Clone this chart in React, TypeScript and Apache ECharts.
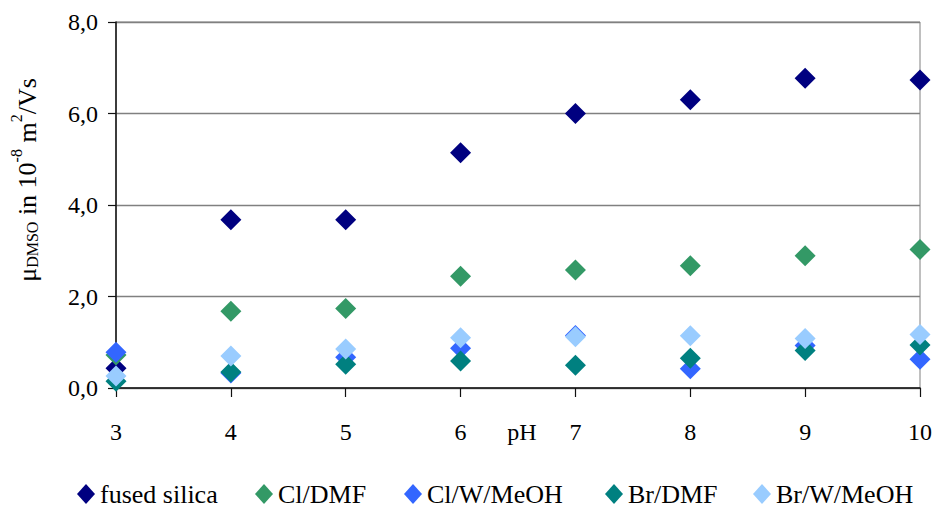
import React, { useEffect, useRef } from "react";
import * as echarts from "echarts";

const pH = [3, 4, 5, 6, 7, 8, 9, 10];
const fusedSilica = [0.43, 3.68, 3.68, 5.14, 6.0, 6.3, 6.77, 6.73];
const clDMF = [0.72, 1.68, 1.74, 2.44, 2.58, 2.67, 2.89, 3.03];
const clWMeOH = [0.78, 0.33, 0.67, 0.87, 1.15, 0.42, 0.93, 0.63];
const brDMF = [0.15, 0.35, 0.52, 0.59, 0.5, 0.65, 0.82, 0.94];
const brWMeOH = [0.26, 0.7, 0.85, 1.1, 1.12, 1.14, 1.08, 1.17];

const seriesNames = ["fused silica", "Cl/DMF", "Cl/W/MeOH", "Br/DMF", "Br/W/MeOH"];
const seriesValues = [fusedSilica, clDMF, clWMeOH, brDMF, brWMeOH];
const seriesColors = ["#000080", "#339966", "#3366FF", "#008080", "#99CCFF"];
const legendLefts = [72, 250, 399, 600, 748];

const FONT = "'Liberation Serif', 'Times New Roman', Times, serif";

export default function App() {
  const ref = useRef<HTMLDivElement>(null);
  useEffect(() => {
    if (!ref.current) return;
    const chart = echarts.init(ref.current, undefined, { renderer: "svg" });
    const labelRich = { t: { fontFamily: FONT, fontSize: 24, color: "#000" } };
    const option: any = {
      animation: false,
      backgroundColor: "#ffffff",
      textStyle: { fontFamily: FONT, color: "#000" },
      grid: {
        left: 116,
        right: 15,
        top: 22,
        bottom: 122,
        show: true,
        borderColor: "#808080",
        borderWidth: 1,
        backgroundColor: "transparent",
      },
      legend: seriesNames.map((n, i) => ({
        data: [n],
        left: legendLefts[i],
        top: 476,
        icon: "diamond",
        itemWidth: 18,
        itemHeight: 20,
        textStyle: { fontFamily: FONT, fontSize: 26, color: "#000" },
        selectedMode: false,
      })),
      xAxis: {
        type: "value",
        min: 3,
        max: 10,
        interval: 1,
        name: "pH",
        nameLocation: "middle",
        nameGap: 32,
        nameMoveOverlap: false,
        nameTextStyle: { fontFamily: FONT, fontSize: 24, color: "#000", padding: [0, 0, 0, 8] },
        axisLine: { lineStyle: { color: "#111", width: 1.5 } },
        axisTick: { show: true, length: 9, lineStyle: { color: "#111", width: 1.2 } },
        axisLabel: {
          fontFamily: FONT,
          fontSize: 24,
          color: "#000",
          margin: 32,
          formatter: (v: number) => "{t|" + String(v) + "}",
          rich: labelRich,
        },
        splitLine: { show: false },
      },
      yAxis: {
        type: "value",
        min: 0,
        max: 8,
        interval: 2,
        name: "{n|μ}{sub|DMSO}{n| in 10}{sup|-8}{n| m}{sup|2}{n|/Vs}",
        nameLocation: "middle",
        nameRotate: 90,
        nameGap: 76,
        nameMoveOverlap: false,
        nameTextStyle: {
          fontFamily: FONT,
          color: "#000",
          padding: [0, 0, 0, 50],
          rich: {
            n: { fontFamily: FONT, fontSize: 26, lineHeight: 32, verticalAlign: "bottom", color: "#000" },
            sub: { fontFamily: FONT, fontSize: 16, lineHeight: 16, verticalAlign: "bottom", color: "#000" },
            sup: { fontFamily: FONT, fontSize: 16, lineHeight: 16, verticalAlign: "top", color: "#000" },
          },
        },
        axisLine: { show: true, lineStyle: { color: "#111", width: 1.5 } },
        axisTick: { show: true, length: 8, lineStyle: { color: "#111", width: 1.2 } },
        axisLabel: {
          fontFamily: FONT,
          fontSize: 24,
          color: "#000",
          margin: 18,
          formatter: (v: number) => "{t|" + v.toFixed(1).replace(".", ",") + "}",
          rich: labelRich,
        },
        splitLine: { show: true, lineStyle: { color: "#808080", width: 1.3 } },
      },
      series: seriesNames.map((n, i) => ({
        name: n,
        type: "scatter",
        symbol: "diamond",
        symbolSize: 21,
        itemStyle: { color: seriesColors[i], opacity: 1 },
        emphasis: { disabled: true },
        data: pH.map((x, j) => [x, seriesValues[i][j]]),
      })),
    };
    chart.setOption(option);
    return () => chart.dispose();
  }, []);
  return (
    <div
      ref={ref}
      style={{ position: "absolute", left: 0, top: 0, width: 935, height: 510 }}
    />
  );
}
